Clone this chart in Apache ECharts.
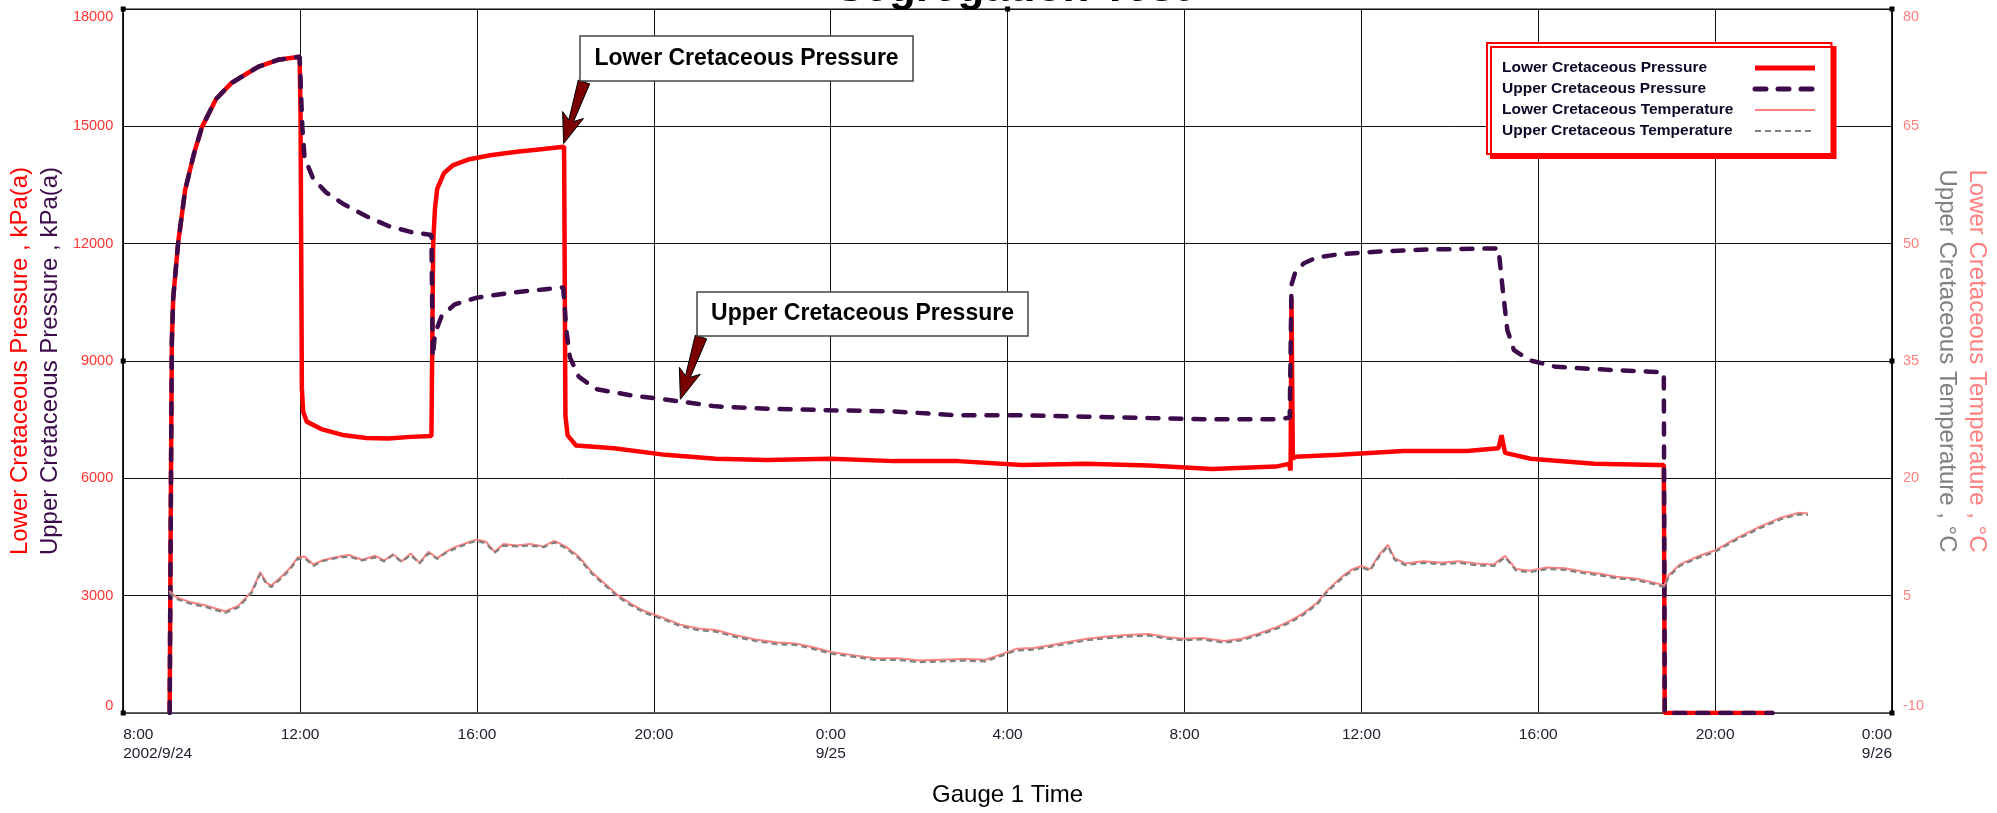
<!DOCTYPE html>
<html>
<head>
<meta charset="utf-8">
<script src="https://cdn.jsdelivr.net/npm/echarts@6/dist/echarts.min.js"></script>
<style>html,body{margin:0;padding:0;background:#fff;}#chart{width:1997px;height:813px;}</style>
</head>
<body>
<div id="chart"></div>
<script>
// ---- data: x = hours since 2002/9/24 0:00 ----
const xTicks = [8, 12, 16, 20, 24, 28, 32, 36, 40, 44, 48];
const dateLabels = {8: '2002/9/24', 24: '9/25', 48: '9/26'};
const seriesNames = ['Lower Cretaceous Pressure', 'Upper Cretaceous Pressure', 'Lower Cretaceous Temperature', 'Upper Cretaceous Temperature'];

const lowerPressure = [
  [9.05,0],[9.08,6000],[9.10,9500],[9.13,10600],[9.24,12000],[9.40,13370],[9.60,14300],[9.78,14980],[10.1,15700],[10.45,16110],[10.8,16350],[11.05,16520],[11.5,16700],[11.99,16780],
  [12.01,15300],[12.04,8300],[12.07,7700],[12.15,7450],[12.5,7250],[13.0,7100],[13.5,7030],[14.0,7020],[14.5,7060],[14.97,7080],
  [15.0,7100],[15.01,12000],[15.05,12900],[15.1,13400],[15.25,13800],[15.45,14000],[15.8,14150],[16.3,14260],[16.9,14350],[17.5,14420],[17.97,14480],
  [18.0,7600],[18.05,7100],[18.24,6840],[19.1,6770],[20.26,6600],[21.4,6500],[22.56,6470],[24.0,6500],[25.44,6440],[26.88,6440],[28.32,6340],[29.76,6370],[31.19,6330],[32.63,6240],[34.07,6300],[34.36,6370],
  [34.40,6200],[34.42,10600],[34.45,6500],[34.5,6550],[35.5,6600],[36.95,6700],[38.39,6700],[39.1,6770],[39.17,7100],[39.25,6650],[39.83,6500],[41.27,6370],[42.7,6340],[42.84,6340],
  [42.86,0],[45.3,0]
];

const upperPressure = [
  [9.05,0],[9.08,6000],[9.10,9500],[9.13,10600],[9.24,12000],[9.40,13370],[9.60,14300],[9.78,14980],[10.1,15700],[10.45,16110],[10.8,16350],[11.05,16520],[11.5,16700],[11.99,16780],
  [12.05,15000],[12.1,14200],[12.3,13650],[12.6,13300],[13.0,13000],[13.5,12700],[14.0,12450],[14.5,12300],[14.97,12220],
  [15.0,9100],[15.05,9700],[15.2,10150],[15.5,10450],[16.0,10620],[16.8,10750],[17.5,10830],[17.95,10880],
  [18.02,9800],[18.1,9100],[18.3,8600],[18.7,8280],[19.5,8120],[20.3,8010],[21.4,7840],[22.56,7780],[24.0,7740],[25.44,7710],[26.88,7610],[28.32,7610],[29.76,7575],[31.19,7540],[32.63,7510],[34.07,7510],[34.38,7550],
  [34.42,10950],[34.5,11250],[34.7,11500],[35.0,11650],[35.5,11730],[36.4,11800],[37.5,11850],[39.1,11880],
  [39.2,10800],[39.3,9800],[39.45,9280],[39.8,9020],[40.4,8850],[41.5,8780],[42.7,8720],[42.84,8700],
  [42.86,0],[45.3,0]
];

const lowerTemp = [
  [9.04,5.6],[9.2,4.8],[9.5,4.2],[9.9,3.7],[10.3,3.0],[10.6,3.7],[10.9,5.5],[11.1,8.0],[11.25,6.6],[11.35,6.3],[11.55,7.3],[11.75,8.4],[11.95,9.9],[12.1,10.0],[12.3,9.0],[12.5,9.5],[12.8,9.9],[13.1,10.2],[13.4,9.6],[13.7,10.1],[13.9,9.5],[14.1,10.3],[14.3,9.4],[14.5,10.4],[14.7,9.2],[14.9,10.6],[15.1,9.8],[15.3,10.6],[15.5,11.2],[15.8,11.8],[16.0,12.2],[16.2,11.9],[16.4,10.6],[16.6,11.6],[16.9,11.4],[17.2,11.6],[17.5,11.3],[17.75,12.0],[18.0,11.3],
  [18.3,10.0],[18.6,8.0],[18.9,6.5],[19.2,5.0],[19.5,3.9],[19.8,3.0],[20.2,2.2],[20.6,1.3],[21.0,0.8],[21.4,0.6],[21.8,0.0],[22.3,-0.6],[22.8,-1.0],[23.2,-1.1],[23.6,-1.6],[24.0,-2.2],[24.5,-2.6],[25.0,-3.0],[25.5,-3.0],[26.0,-3.3],[26.5,-3.2],[27.0,-3.1],[27.5,-3.2],[27.8,-2.6],[28.2,-1.8],[28.6,-1.7],[29.0,-1.3],[29.4,-0.9],[29.8,-0.5],[30.3,-0.2],[30.8,0.0],[31.2,0.1],[31.6,-0.3],[32.0,-0.5],[32.4,-0.4],[32.9,-0.8],[33.3,-0.5],[33.7,0.2],
  [34.1,1.0],[34.4,1.8],[34.7,2.8],[35.0,4.1],[35.2,5.5],[35.4,6.6],[35.6,7.6],[35.8,8.4],[36.0,8.8],[36.2,8.4],[36.4,10.2],[36.6,11.5],[36.75,9.8],[37.0,9.1],[37.4,9.4],[37.8,9.2],[38.2,9.4],[38.6,9.1],[39.0,9.0],[39.25,10.1],[39.5,8.4],[39.8,8.2],[40.2,8.6],[40.6,8.5],[41.0,8.1],[41.4,7.8],[41.8,7.4],[42.2,7.2],[42.6,6.7],[42.85,6.3],
  [42.95,7.6],[43.2,9.0],[43.6,10.0],[44.0,10.8],[44.5,12.4],[45.0,13.8],[45.5,15.0],[45.9,15.6],[46.1,15.5]
];

const upperTemp = [
  [9.04,5.4],[9.2,4.6],[9.5,4.0],[9.9,3.5],[10.3,2.8],[10.6,3.5],[10.9,5.3],[11.1,7.8],[11.25,6.4],[11.35,6.1],[11.55,7.1],[11.75,8.2],[11.95,9.7],[12.1,9.8],[12.3,8.8],[12.5,9.4],[12.8,9.8],[13.1,10.0],[13.4,9.5],[13.7,9.9],[13.9,9.4],[14.1,10.2],[14.3,9.3],[14.5,10.2],[14.7,9.1],[14.9,10.4],[15.1,9.7],[15.3,10.5],[15.5,11.0],[15.8,11.7],[16.0,12.0],[16.2,11.7],[16.4,10.5],[16.6,11.4],[16.9,11.3],[17.2,11.4],[17.5,11.2],[17.75,11.8],[18.0,11.1],
  [18.3,9.8],[18.6,7.8],[18.9,6.3],[19.2,4.8],[19.5,3.7],[19.8,2.8],[20.2,2.0],[20.6,1.1],[21.0,0.6],[21.4,0.4],[21.8,-0.2],[22.3,-0.8],[22.8,-1.2],[23.2,-1.3],[23.6,-1.8],[24.0,-2.4],[24.5,-2.8],[25.0,-3.2],[25.5,-3.2],[26.0,-3.5],[26.5,-3.4],[27.0,-3.3],[27.5,-3.4],[27.8,-2.8],[28.2,-2.0],[28.6,-1.9],[29.0,-1.5],[29.4,-1.1],[29.8,-0.7],[30.3,-0.4],[30.8,-0.2],[31.2,-0.1],[31.6,-0.5],[32.0,-0.7],[32.4,-0.6],[32.9,-1.0],[33.3,-0.7],[33.7,0.0],
  [34.1,0.8],[34.4,1.6],[34.7,2.6],[35.0,3.9],[35.2,5.3],[35.4,6.4],[35.6,7.4],[35.8,8.2],[36.0,8.6],[36.2,8.2],[36.4,10.0],[36.6,11.3],[36.75,9.6],[37.0,8.9],[37.4,9.2],[37.8,9.0],[38.2,9.2],[38.6,8.9],[39.0,8.8],[39.25,9.9],[39.5,8.2],[39.8,8.0],[40.2,8.4],[40.6,8.3],[41.0,7.9],[41.4,7.6],[41.8,7.2],[42.2,7.0],[42.6,6.5],[42.85,6.1],
  [42.95,7.4],[43.2,8.8],[43.6,9.8],[44.0,10.6],[44.5,12.2],[45.0,13.6],[45.5,14.8],[45.9,15.4],[46.1,15.3]
];

// ---- chart ----
const FONT = '"Liberation Sans", Arial, sans-serif';
const chart = echarts.init(document.getElementById('chart'));

const legendWidths = [5, 5, 2, 2.2];

const option = {
  animation: false,
  backgroundColor: '#fff',
  textStyle: {fontFamily: FONT},
  grid: {left: 118, right: 105, top: 9, bottom: 100, show: true, borderColor: '#555', borderWidth: 1.5, backgroundColor: 'transparent', containLabel: false},
  legend: {
    data: seriesNames.map((n, i) => ({name: n, lineStyle: {width: legendWidths[i]}})),
    orient: 'vertical',
    left: 1487, top: 43,
    align: 'right',
    itemWidth: 60, itemHeight: 14, itemGap: 5,
    padding: [17, 14, 15, 15],
    backgroundColor: '#fff',
    borderColor: '#ff0000', borderWidth: 2, borderRadius: 0,
    shadowColor: '#ff0000', shadowOffsetX: 4, shadowOffsetY: 4, shadowBlur: 0,
    selectedMode: false,
    itemStyle: {opacity: 0},
    formatter: function (name) { return '{t|' + name + '}'; },
    textStyle: {
      fontFamily: FONT, fontSize: 15.5, fontWeight: 'bold', color: '#0a0a28', lineHeight: 15,
      rich: {t: {width: 248, align: 'left', fontFamily: FONT, fontSize: 15.5, fontWeight: 'bold', color: '#0a0a28', lineHeight: 15}}
    }
  },
  xAxis: {
    type: 'value', min: 8, max: 48, interval: 4,
    axisLine: {show: true, onZero: false, lineStyle: {color: '#555', width: 1.5}},
    axisTick: {show: false},
    splitLine: {show: true, lineStyle: {color: '#111', width: 1}},
    axisLabel: {
      margin: 12, fontSize: 15.5, lineHeight: 19, color: '#202030', fontFamily: FONT,
      showMinLabel: true, showMaxLabel: true, alignMinLabel: 'left', alignMaxLabel: 'right',
      formatter: function (v) {
        let s = (v % 24) + ':00';
        if (dateLabels[v]) s += '\n' + dateLabels[v];
        return s;
      }
    },
    name: 'Gauge 1 Time', nameLocation: 'middle', nameGap: 70,
    nameTextStyle: {fontSize: 24, color: '#000', fontFamily: FONT}
  },
  yAxis: [
    {
      type: 'value', min: 0, max: 18000, interval: 3000, position: 'left',
      axisLine: {show: true, lineStyle: {color: '#000', width: 1.5}},
      axisTick: {show: false},
      splitLine: {show: true, lineStyle: {color: '#111', width: 1}},
      axisLabel: {color: '#ff3333', fontSize: 14.5, margin: 10, fontFamily: FONT, verticalAlignMinLabel: 'bottom', verticalAlignMaxLabel: 'top',
        formatter: function (v) { return String(v); }},
      name: '{a|Lower Cretaceous Pressure , kPa(a)}\n{b|Upper Cretaceous Pressure , kPa(a)}',
      nameLocation: 'middle', nameRotate: 90, nameGap: 51,
      nameTextStyle: {
        rich: {
          a: {color: '#ff0000', fontSize: 24, lineHeight: 30, fontFamily: FONT},
          b: {color: '#3d0b4b', fontSize: 24, lineHeight: 30, fontFamily: FONT}
        }
      }
    },
    {
      type: 'value', min: -10, max: 80, interval: 15, position: 'right',
      axisLine: {show: true, lineStyle: {color: '#000', width: 1.5}},
      axisTick: {show: false},
      splitLine: {show: false},
      axisLabel: {color: '#ff8080', fontSize: 14.5, margin: 11, fontFamily: FONT, verticalAlignMinLabel: 'bottom', verticalAlignMaxLabel: 'top',
        formatter: function (v) { return String(v); }},
      name: '{a|Lower Cretaceous Temperature , °C}\n{b|Upper Cretaceous Temperature , °C}',
      nameLocation: 'middle', nameRotate: -90, nameGap: 30,
      nameTextStyle: {
        rich: {
          a: {color: '#ff8080', fontSize: 24, lineHeight: 30, fontFamily: FONT},
          b: {color: '#808080', fontSize: 24, lineHeight: 30, fontFamily: FONT}
        }
      }
    }
  ],
  series: [
    {
      name: seriesNames[0], type: 'line', yAxisIndex: 0, data: lowerPressure,
      symbol: 'none', showSymbol: false, z: 2,
      lineStyle: {color: '#ff0000', width: 4.5}, itemStyle: {color: '#ff0000', opacity: 0}
    },
    {
      name: seriesNames[1], type: 'line', yAxisIndex: 0, data: upperPressure,
      symbol: 'none', showSymbol: false, z: 3,
      lineStyle: {color: '#3d0b4b', width: 4.5, type: [11, 12], cap: 'round'}, itemStyle: {color: '#3d0b4b', opacity: 0}
    },
    {
      name: seriesNames[2], type: 'line', yAxisIndex: 1, data: lowerTemp,
      symbol: 'none', showSymbol: false, z: 4,
      lineStyle: {color: '#ff8080', width: 2}, itemStyle: {color: '#ff8080', opacity: 0}
    },
    {
      name: seriesNames[3], type: 'line', yAxisIndex: 1, data: upperTemp,
      symbol: 'none', showSymbol: false, z: 5,
      lineStyle: {color: '#808080', width: 2.2, type: [6, 4]}, itemStyle: {color: '#808080', opacity: 0}
    }
  ]
};
chart.setOption(option);

// ---- decorations: title, callouts, corner handles ----
const px = (x, y) => chart.convertToPixel({xAxisIndex: 0, yAxisIndex: 0}, [x, y]);
const tl = px(8, 18000), br = px(48, 0);
const midX = (tl[0] + br[0]) / 2, midY = (tl[1] + br[1]) / 2;

function arrowShape(tail, tip) {
  const dx = tip[0] - tail[0], dy = tip[1] - tail[1];
  const L = Math.hypot(dx, dy), ux = dx / L, uy = dy / L, nx = -uy, ny = ux;
  const head = 24, wTail = 6, wNeck = 2.5, barb = 11, back = 6;
  const bx = tip[0] - ux * head, by = tip[1] - uy * head;
  return [
    [tail[0] + nx * wTail, tail[1] + ny * wTail],
    [bx + nx * wNeck, by + ny * wNeck],
    [bx + nx * barb - ux * back, by + ny * barb - uy * back],
    [tip[0], tip[1]],
    [bx - nx * barb - ux * back, by - ny * barb - uy * back],
    [bx - nx * wNeck, by - ny * wNeck],
    [tail[0] - nx * wTail, tail[1] - ny * wTail]
  ];
}

function callout(box, label, tip) {
  const tail = [box.x + 4, box.y + box.h + 1];
  return [
    {type: 'polygon', z: 100, shape: {points: arrowShape(tail, tip)}, style: {fill: '#7a0000', stroke: '#000', lineWidth: 1}},
    {type: 'rect', z: 101, shape: {x: box.x, y: box.y, width: box.w, height: box.h}, style: {fill: '#fff', stroke: '#444', lineWidth: 1.5}},
    {type: 'text', z: 102, style: {x: box.x + box.w / 2, y: box.y + box.h / 2, text: label, align: 'center', verticalAlign: 'middle', fontFamily: FONT, fontSize: 23, fontWeight: 'bold', fill: '#000'}}
  ];
}

const handles = [[tl[0], tl[1]], [br[0], tl[1]], [tl[0], br[1]], [br[0], br[1]], [tl[0], midY], [br[0], midY], [midX, tl[1]]];
const graphics = [
  {type: 'text', z: 50, style: {x: 1012, y: 11, text: 'Segregation Test', align: 'center', verticalAlign: 'bottom', fontFamily: FONT, fontSize: 44, fontWeight: 'bold', fill: '#000'}}
];
graphics.push(...callout({x: 580, y: 36, w: 333, h: 45}, 'Lower Cretaceous Pressure', px(17.96, 14560)));
graphics.push(...callout({x: 697, y: 292, w: 331, h: 44}, 'Upper Cretaceous Pressure', px(20.6, 8020)));
handles.forEach(h => graphics.push({type: 'rect', z: 60, shape: {x: h[0] - 2.5, y: h[1] - 2.5, width: 5, height: 5}, style: {fill: '#000'}}));
chart.setOption({graphic: graphics});
</script>
</body>
</html>
